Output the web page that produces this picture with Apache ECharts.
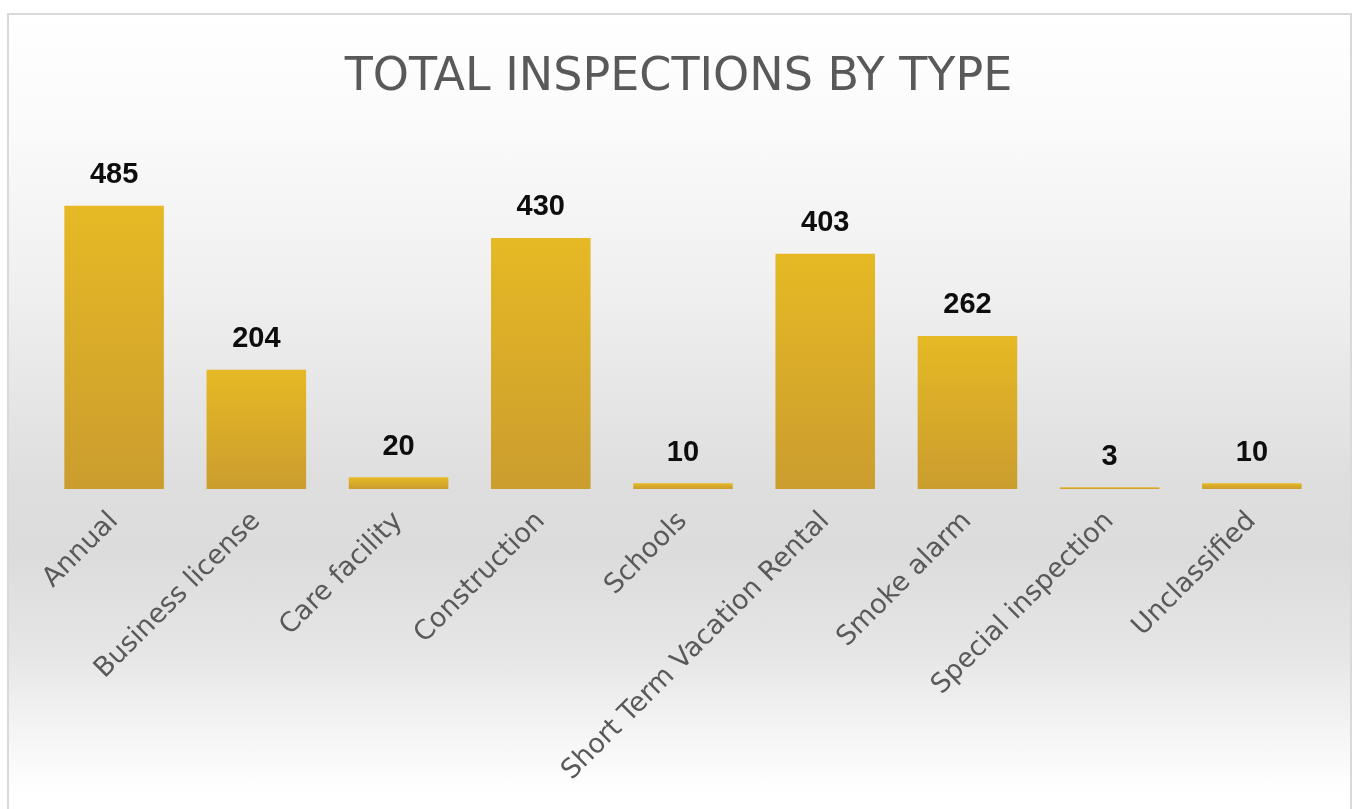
<!DOCTYPE html>
<html>
<head>
<meta charset="utf-8">
<script src="https://cdn.jsdelivr.net/npm/echarts@6/dist/echarts.min.js"></script>
<style>
	html, body { margin: 0; padding: 0; background: #fff; }
	#frame {
		position: absolute; left: 7px; top: 13px; width: 1341px; height: 800px;
		border: 2px solid #d9d9d9; border-bottom: none;
		background: linear-gradient(to bottom, #ffffff 0px, #fafafa 120px, #efefef 280px, #dedede 470px, #dcdcdc 540px, #e6e6e6 640px, #f7f7f7 730px, #ffffff 780px);
	}
	#chart { position: absolute; left: 0; top: 0; width: 1357px; height: 809px; }
</style>
</head>
<body>
<div id="frame"></div>
<div id="chart"></div>
<script>
	// inspection types and counts
	var categories = ['Annual', 'Business license', 'Care facility', 'Construction', 'Schools',
		'Short Term Vacation Rental', 'Smoke alarm', 'Special inspection', 'Unclassified']
	var counts = [485, 204, 20, 430, 10, 403, 262, 3, 10]

	var dom = echarts.init(document.getElementById('chart'))
	var option = {
		backgroundColor: 'transparent',
		title: {
			text: 'TOTAL INSPECTIONS BY TYPE',
			left: 'center',
			top: 50,
			textStyle: {
				fontFamily: 'DejaVu Sans',
				fontWeight: 'normal',
				fontSize: 46,
				color: '#595959'
			}
		},
		grid: {
			left: 43,
			right: 34,
			top: 197,
			bottom: 320
		},
		xAxis: {
			type: 'category',
			data: categories,
			axisLine: { show: false },
			axisTick: { show: false },
			axisLabel: {
				rotate: 45,
				interval: 0,
				margin: 28,
				fontFamily: 'DejaVu Sans',
				fontSize: 27,
				color: '#595959'
			}
		},
		yAxis: {
			type: 'value',
			min: 0,
			max: 500,
			show: false,
			splitLine: { show: false }
		},
		series: [{
			type: 'bar',
			data: counts,
			barCategoryGap: '30%',
			itemStyle: {
				color: new echarts.graphic.LinearGradient(0, 0, 0, 1, [
					{ offset: 0, color: '#e6b925' },
					{ offset: 1, color: '#cb9d2e' }
				])
			},
			label: {
				show: true,
				position: 'top',
				distance: 16,
				fontFamily: 'Liberation Sans',
				fontWeight: 'bold',
				fontSize: 29,
				color: '#0d0d0d'
			}
		}]
	}
	dom.setOption(option)
</script>
</body>
</html>
